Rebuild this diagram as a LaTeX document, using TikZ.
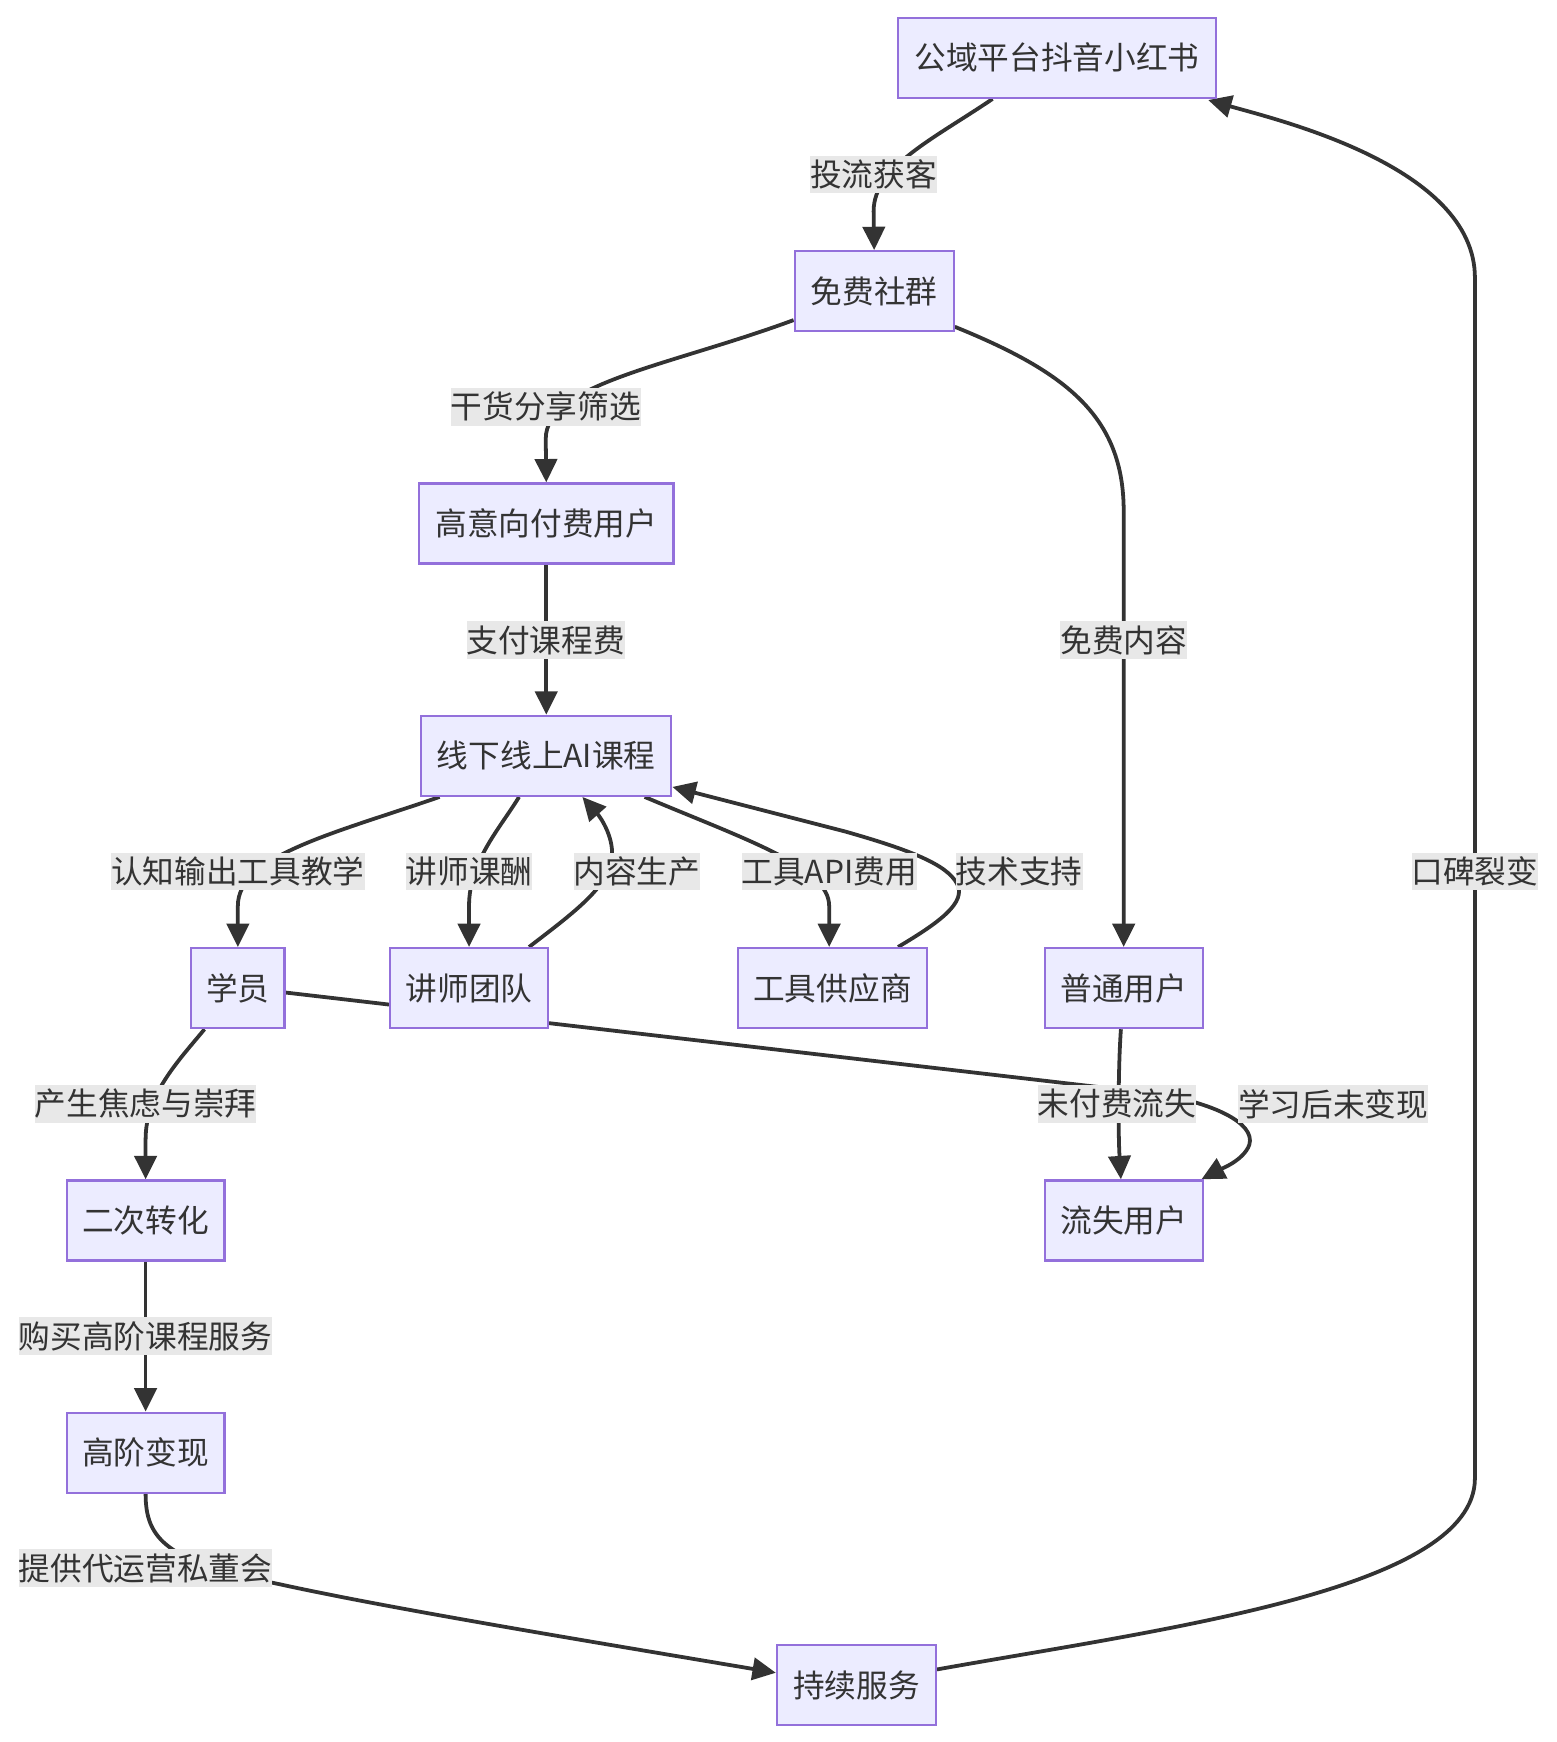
\documentclass[tikz,border=0pt]{standalone}
\usepackage{fontspec}
\newfontfamily\cjk{Noto Sans CJK SC}
\usetikzlibrary{arrows.meta}
\pgfdeclarelayer{bg}
\pgfsetlayers{bg,main}
\definecolor{nodefill}{HTML}{ECECFF}
\definecolor{nodeline}{HTML}{9370DB}
\definecolor{ink}{HTML}{333333}
\definecolor{lblbg}{HTML}{E8E8E8}
\tikzset{
  box/.style={draw=nodeline, fill=nodefill, line width=2pt, minimum height=72pt,
    inner sep=0pt, text=ink, font=\cjk\fontsize{28.5pt}{34pt}\selectfont},
  lbl/.style={fill=lblbg, inner sep=0pt, minimum height=34pt, text=ink,
    font=\cjk\fontsize{28.5pt}{34pt}\selectfont},
  conn/.style={draw=ink, line width=3.4pt, -{Triangle[length=21pt,width=20pt]}},
}
\begin{document}
\begin{tikzpicture}[x=1pt,y=-1pt]
\useasboundingbox (0,0) rectangle (1400,1567.3);
% nodes
\node[box, minimum width=286pt] (n1) at (951,52) {公域平台抖音小红书};
\node[box, minimum width=143pt] (n2) at (786.5,262) {免费社群};
\node[box, minimum width=229pt] (n3) at (491.5,471) {高意向付费用户};
\node[box, minimum width=225pt] (n4) at (491.5,680) {线下线上AI课程};
\node[box, minimum width=84pt]  (n5) at (214,889) {学员};
\node[box, minimum width=142pt] (n6) at (422,889) {讲师团队};
\node[box, minimum width=170pt] (n7) at (749,889) {工具供应商};
\node[box, minimum width=142pt] (n8) at (1011,889) {普通用户};
\node[box, minimum width=142pt] (n9) at (131,1098) {二次转化};
\node[box, minimum width=142pt] (n10) at (1011,1098) {流失用户};
\node[box, minimum width=142pt] (n11) at (131,1307) {高阶变现};
\node[box, minimum width=143pt] (n12) at (770.5,1516) {持续服务};
% edges
\begin{pgfonlayer}{bg}
\draw[conn] ([xshift=-58pt]n1.south) .. controls (840,125) and (786,150) .. (786,190) -- (n2.north);
\draw[conn] ([yshift=-26pt]n2.west) .. controls (600,330) and (491,345) .. (491,395) -- (n3.north);
\draw[conn] ([yshift=-32pt]n2.east) .. controls (960,335) and (1011,375) .. (1011,460) -- (n8.north);
\draw[conn] (n3.south) -- (n4.north);
\draw[conn] ([xshift=-96pt]n4.south) .. controls (300,750) and (214,770) .. (214,815) -- (n5.north);
\draw[conn] ([xshift=-24.5pt]n4.south) .. controls (450,745) and (422,775) .. (422,815) -- (n6.north);
\draw[conn] ([xshift=54pt]n6.north) .. controls (515,822) and (545,800) .. (550,775) .. controls (554,755) and (540,735) .. ([xshift=32.5pt]n4.south);
\draw[conn] ([xshift=88.5pt]n4.south) .. controls (670,755) and (746,780) .. (746,815) -- ([xshift=-3pt]n7.north);
\draw[conn] ([xshift=59pt]n7.north) .. controls (845,830) and (870,812) .. (861,795) .. controls (852,778) and (820,765) .. (760,748) -- ([yshift=-28pt]n4.east);
\draw[conn] ([yshift=-4pt]n5.east) -- (1040,984) .. controls (1090,992) and (1130,1010) .. (1124,1030) .. controls (1119,1044) and (1098,1052) .. ([xshift=-2pt]n10.north east);
\draw[conn] ([xshift=-2.5pt]n8.south) .. controls (1006,960) and (1006,1020) .. ([xshift=-2.5pt]n10.north);
\draw[conn] ([xshift=13pt]n5.south west) .. controls (160,955) and (131,985) .. (131,1025) -- (n9.north);
\draw[conn] (n9.south) -- (n11.north);
\draw[conn] (n11.south) .. controls (131,1385) and (150,1405) .. (250,1425) .. controls (350,1447) and (520,1475) .. ([yshift=11pt]n12.west);
\draw[conn] ([yshift=14pt]n12.east) .. controls (1050,1465) and (1327,1430) .. (1327,1330) -- (1327,250) .. controls (1327,150) and (1150,108) .. ([xshift=-8pt,yshift=-1pt]n1.south east);
\end{pgfonlayer}
% labels
\node[lbl] (l1) at (786,157) {投流获客};
\node[lbl] (l2) at (491,366) {干货分享筛选};
\node[lbl] (l3) at (1011,576) {免费内容};
\node[lbl] (l4) at (491,576) {支付课程费};
\node[lbl] (l5) at (214,784) {认知输出工具教学};
\node[lbl] (l6) at (422,784) {讲师课酬};
\node[lbl] (l7) at (573,784) {内容生产};
\node[lbl] (l8) at (746,784) {工具API费用};
\node[lbl] (l9) at (917,784) {技术支持};
\node[lbl] (l10) at (1005,993) {未付费流失};
\node[lbl] (l11) at (1199.5,993.5) {学习后未变现};
\node[lbl] (l12) at (1327,784) {口碑裂变};
\node[lbl] (l13) at (131,993) {产生焦虑与崇拜};
\node[lbl] (l14) at (131,1202) {购买高阶课程服务};
\node[lbl] (l15) at (131,1411) {提供代运营私董会};
\end{tikzpicture}
\end{document}
